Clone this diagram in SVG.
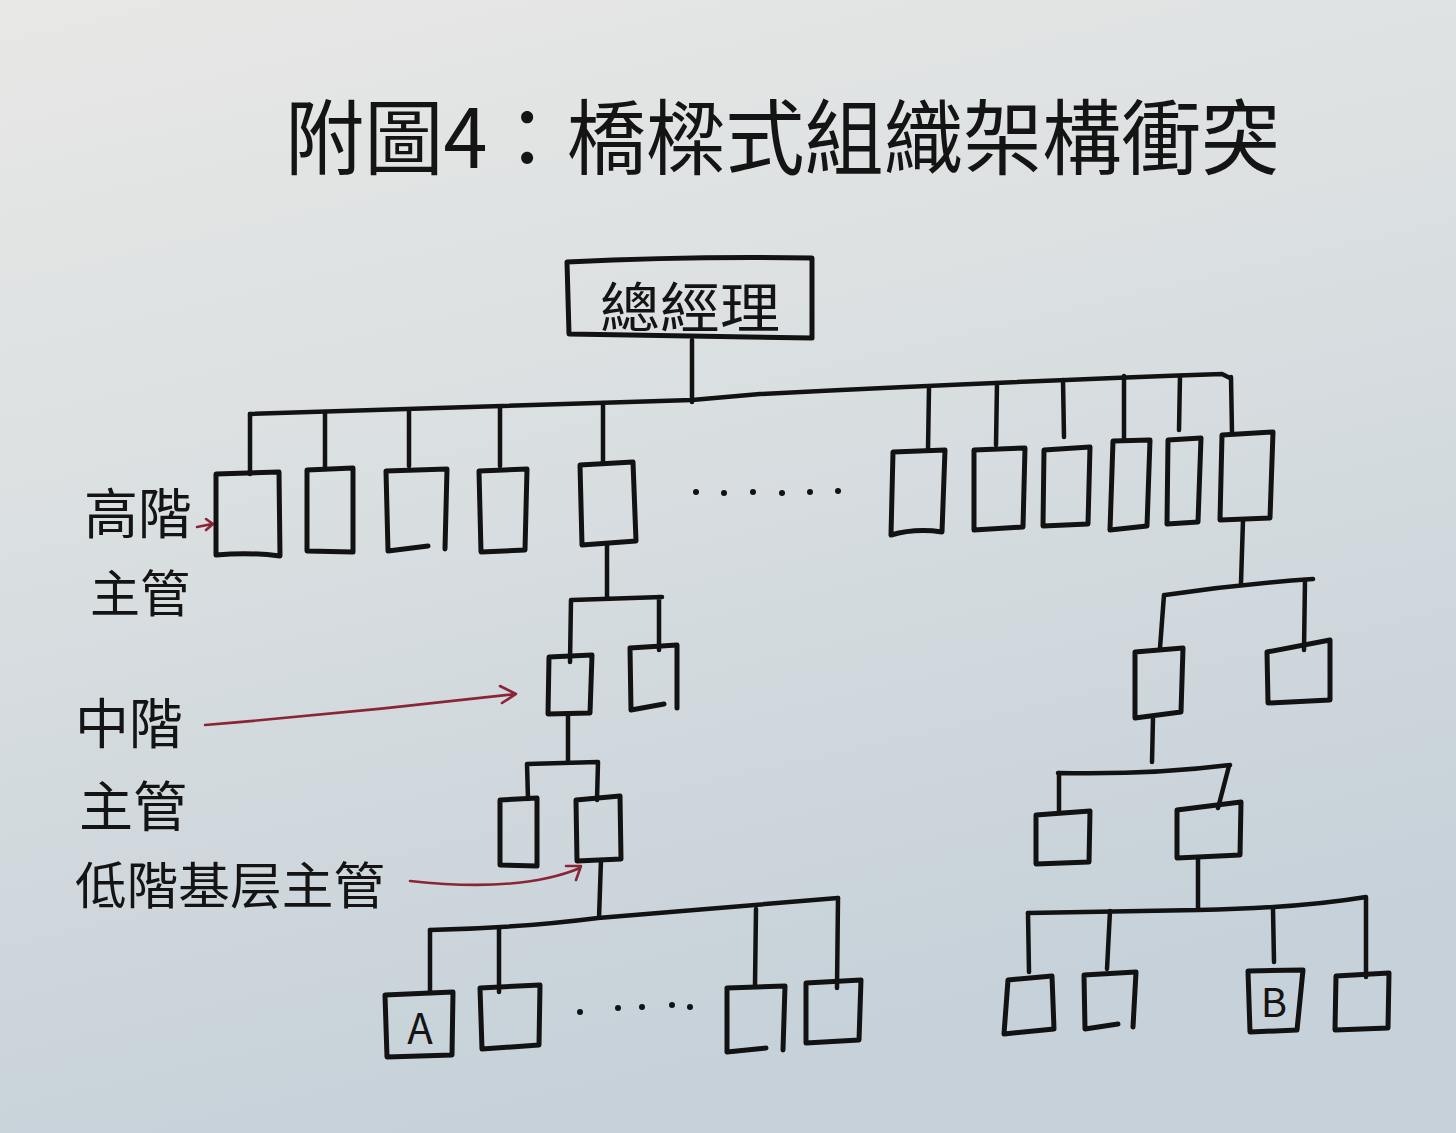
<svg xmlns="http://www.w3.org/2000/svg" width="1456" height="1133" viewBox="0 0 1456 1133">
<defs>
<linearGradient id="paper" x1="0" y1="0" x2="0.3" y2="1">
<stop offset="0" stop-color="#e8e8e6"/>
<stop offset="0.45" stop-color="#dadfe1"/>
<stop offset="1" stop-color="#c6d1d9"/>
</linearGradient>
<style>
.b{fill:none;stroke:#121212;stroke-width:5;stroke-linecap:round;stroke-linejoin:round}
.c{fill:none;stroke:#121212;stroke-width:4.5;stroke-linecap:round;stroke-linejoin:round}
.r{fill:none;stroke:#8a2535;stroke-width:2.6;stroke-linecap:round;stroke-linejoin:round}
.t{font-family:"Noto Sans CJK TC","Noto Sans CJK SC",sans-serif;fill:#141414}
.d{fill:#121212}
</style>
</defs>
<rect width="1456" height="1133" fill="url(#paper)"/>

<text class="t" x="285" y="132" font-size="82" dominant-baseline="central" textLength="995" lengthAdjust="spacingAndGlyphs">附圖4：橋樑式組織架構衝突</text>

<g id="labels">
<text class="t" x="138" y="510" font-size="54" text-anchor="middle" dominant-baseline="central">高階</text>
<text class="t" x="140" y="590" font-size="50" text-anchor="middle" dominant-baseline="central">主管</text>
<text class="t" x="129" y="720" font-size="54" text-anchor="middle" dominant-baseline="central">中階</text>
<text class="t" x="133" y="803" font-size="54" text-anchor="middle" dominant-baseline="central">主管</text>
<text class="t" x="75" y="882" font-size="50" dominant-baseline="central" textLength="310" lengthAdjust="spacingAndGlyphs">低階基层主管</text>
</g>

<g id="connectors">
<path class="c" d="M692,340 L692,402"/>
<path class="c" d="M250,414 Q470,408 692,400 L760,394 Q1000,382 1222,374 L1230,378"/>
<path class="c" d="M250,414 L250,474 M325,412 L325,468 M409,410 L409,466 M500,407 L500,466 M603,403 L603,463"/>
<path class="c" d="M929,388 L928,450 M997,383 L996,445 M1063,380 L1064,437 M1124,376 L1124,440 M1180,376 L1179,430 M1231,377 L1232,433"/>
<path class="c" d="M607,545 L607,598 M572,600 L662,597 M571,600 L570,662 M659,597 L659,650"/>
<path class="c" d="M568,714 L568,762 M527,764 L598,762 M527,764 L528,799 M598,762 L597,800"/>
<path class="c" d="M601,860 L599,918 M430,930 Q520,928 598,918 L838,898"/>
<path class="c" d="M430,930 L430,993 M499,929 L499,992 M756,909 L755,985 M838,898 L837,988"/>
<path class="c" d="M1243,520 L1241,583 M1165,595 Q1240,584 1313,579 M1164,595 L1160,648 M1305,580 L1304,650"/>
<path class="c" d="M1153,718 L1152,762 M1058,773 Q1150,775 1230,765 M1059,773 L1059,813 M1229,766 L1218,808"/>
<path class="c" d="M1198,858 L1198,910 M1028,913 L1198,910 Q1300,908 1366,897"/>
<path class="c" d="M1028,913 L1029,972 M1110,911 L1107,969 M1273,909 L1274,962 M1366,898 L1366,977"/>
<path class="r" d="M197,527 L212,524 M206,519 L213,524 L206,530"/>
<path class="r" d="M205,725 Q360,712 515,694 M500,686 L516,694 L502,703"/>
<path class="r" d="M410,881 Q520,893 580,868 M566,866 L581,866 L576,880"/>
</g>

<g id="ceo">
<path class="b" d="M567,262 Q690,256 812,258 L812,338 L569,334 Z"/>
<text class="t" x="690" y="304" font-size="54" text-anchor="middle" dominant-baseline="central" textLength="180" lengthAdjust="spacingAndGlyphs">總經理</text>
</g>

<g id="senior-left">
<path id="s1" class="b" d="M216,474 L279,472 L280,556 Q250,552 216,555 Z"/>
<path id="s2" class="b" d="M307,470 L353,468 L353,552 L307,551 Z"/>
<path id="s3" class="b" d="M386,471 L447,469 L445,549 M428,546 L388,551 L386,471"/>
<path id="s4" class="b" d="M479,471 L527,469 L525,550 L481,552 Z"/>
<path id="s5" class="b" d="M580,465 L633,462 L636,541 L582,545 Z"/>
</g>

<g id="dots-top">
<circle class="d" cx="696" cy="492" r="3"/>
<circle class="d" cx="724" cy="493" r="3"/>
<circle class="d" cx="753" cy="492" r="3"/>
<circle class="d" cx="782" cy="493" r="3"/>
<circle class="d" cx="810" cy="492" r="3"/>
<circle class="d" cx="838" cy="491" r="3"/>
</g>

<g id="senior-right">
<path id="r1" class="b" d="M893,452 L945,450 L942,532 Q915,528 891,535 Z"/>
<path id="r2" class="b" d="M974,450 L1025,448 L1023,527 L974,530 Z"/>
<path id="r3" class="b" d="M1044,450 L1090,447 L1088,524 L1043,526 Z"/>
<path id="r4" class="b" d="M1113,441 L1150,440 L1147,526 L1110,530 Z"/>
<path id="r5" class="b" d="M1168,440 L1201,438 L1198,522 L1167,524 Z"/>
<path id="r6" class="b" d="M1222,435 L1273,432 L1270,518 L1220,520 Z"/>
</g>

<g id="middle-left">
<path id="m1" class="b" d="M549,657 L592,655 L590,713 L548,714 Z"/>
<path id="m2" class="b" d="M630,648 L677,645 L677,708 M664,704 L631,710 L630,648"/>
</g>

<g id="low-left">
<path id="k1" class="b" d="M500,800 L537,798 L537,866 L500,865 Z"/>
<path id="k2" class="b" d="M576,800 L620,796 L621,859 L577,861 Z"/>
</g>

<g id="base-left">
<g id="nodeA">
<path class="b" d="M385,995 L453,992 L452,1055 L387,1057 Z"/>
<text class="t" x="420" y="1025" font-size="42" text-anchor="middle" dominant-baseline="central">A</text>
</g>
<path id="bl2" class="b" d="M480,988 L540,985 L539,1045 L482,1049 Z"/>
<path id="bl3" class="b" d="M727,988 L785,986 L783,1050 M766,1048 L727,1052 L727,988"/>
<path id="bl4" class="b" d="M806,983 L861,980 L859,1040 L806,1043 Z"/>
</g>

<g id="dots-bottom">
<circle class="d" cx="580" cy="1012" r="3"/>
<circle class="d" cx="618" cy="1008" r="3"/>
<circle class="d" cx="642" cy="1007" r="3"/>
<circle class="d" cx="672" cy="1005" r="3"/>
<circle class="d" cx="690" cy="1007" r="3"/>
</g>

<g id="middle-right">
<path id="p1" class="b" d="M1135,652 L1183,648 L1181,712 L1135,718 Z"/>
<path id="p2" class="b" d="M1267,652 L1330,640 L1330,700 L1268,703 Z"/>
</g>

<g id="low-right">
<path id="q1" class="b" d="M1036,815 L1090,811 L1089,862 L1036,864 Z"/>
<path id="q2" class="b" d="M1177,810 L1241,802 L1240,855 L1177,858 Z"/>
</g>

<g id="base-right">
<path id="br1" class="b" d="M1008,980 L1052,976 L1054,1029 L1004,1034 Z"/>
<path id="br2" class="b" d="M1084,975 L1136,972 L1133,1027 M1118,1024 L1085,1029 L1084,975"/>
<g id="nodeB">
<path class="b" d="M1248,971 L1303,970 L1297,1030 L1250,1032 Z"/>
<text class="t" x="1274" y="1000" font-size="40" text-anchor="middle" dominant-baseline="central">B</text>
</g>
<path id="br4" class="b" d="M1336,976 L1389,973 L1388,1028 L1335,1030 Z"/>
</g>
</svg>
